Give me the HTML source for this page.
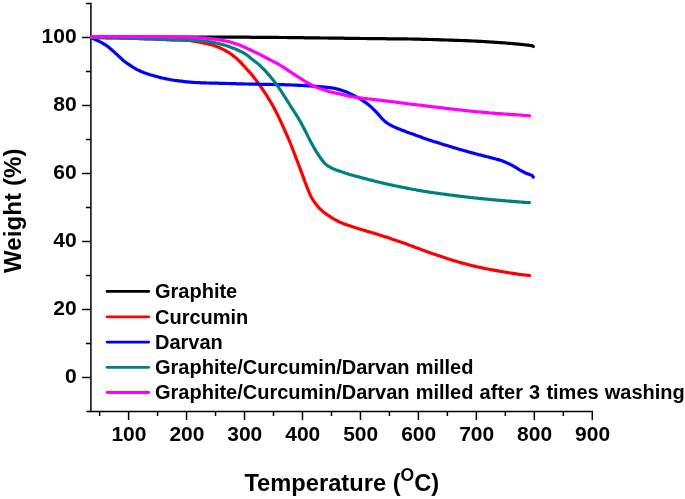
<!DOCTYPE html>
<html lang="en">
<head>
<meta charset="utf-8">
<title>TGA: Weight (%) vs Temperature</title>
<style>
html,body{margin:0;padding:0;background:#fff;}
body{width:685px;height:499px;overflow:hidden;position:relative;font-family:"Liberation Sans",sans-serif;}
</style>
</head>
<body>
<svg width="685" height="499" viewBox="0 0 685 499" style="display:block;position:absolute;left:0;top:0">
<rect width="685" height="499" fill="#ffffff"/>
<g stroke="#000" stroke-width="1.5" fill="none" stroke-linecap="butt">
<path d="M90.9,2.75 V412.25"/>
<path d="M86.40,411.5 H593.03"/>
<path d="M82.10,377.50 H90.9"/>
<path d="M85.90,343.50 H90.9"/>
<path d="M82.10,309.50 H90.9"/>
<path d="M85.90,275.50 H90.9"/>
<path d="M82.10,241.50 H90.9"/>
<path d="M85.90,207.50 H90.9"/>
<path d="M82.10,173.50 H90.9"/>
<path d="M85.90,139.50 H90.9"/>
<path d="M82.10,105.50 H90.9"/>
<path d="M85.90,71.50 H90.9"/>
<path d="M82.10,37.50 H90.9"/>
<path d="M85.90,3.50 H90.9"/>
<path d="M99.62,411.5 V416.00"/>
<path d="M128.60,411.5 V420.00"/>
<path d="M157.58,411.5 V416.00"/>
<path d="M186.56,411.5 V420.00"/>
<path d="M215.54,411.5 V416.00"/>
<path d="M244.52,411.5 V420.00"/>
<path d="M273.50,411.5 V416.00"/>
<path d="M302.48,411.5 V420.00"/>
<path d="M331.46,411.5 V416.00"/>
<path d="M360.44,411.5 V420.00"/>
<path d="M389.42,411.5 V416.00"/>
<path d="M418.40,411.5 V420.00"/>
<path d="M447.38,411.5 V416.00"/>
<path d="M476.36,411.5 V420.00"/>
<path d="M505.34,411.5 V416.00"/>
<path d="M534.32,411.5 V420.00"/>
<path d="M563.30,411.5 V416.00"/>
<path d="M592.28,411.5 V420.00"/>
</g>
<path d="M91.6,37.0 L93.1,37.0 L94.6,37.0 L96.1,37.0 L97.6,37.0 L99.1,37.0 L100.6,37.0 L102.1,37.0 L103.6,37.0 L105.1,37.0 L106.6,37.0 L108.1,37.0 L109.6,37.0 L111.1,37.0 L112.6,37.0 L114.1,37.0 L115.6,37.0 L117.1,37.0 L118.6,37.0 L120.1,37.0 L121.6,37.0 L123.1,37.0 L124.6,37.0 L126.1,37.0 L127.6,37.0 L129.1,37.0 L130.6,37.0 L132.1,37.0 L133.6,37.0 L135.1,37.0 L136.6,37.0 L138.1,37.0 L139.6,37.0 L141.1,37.0 L142.6,37.0 L144.1,37.0 L145.6,37.0 L147.1,37.0 L148.6,37.0 L150.1,37.0 L151.6,37.0 L153.1,37.0 L154.6,37.0 L156.1,37.0 L157.6,37.0 L159.1,37.0 L160.6,37.0 L162.1,37.0 L163.6,37.0 L165.1,37.0 L166.6,37.0 L168.1,37.0 L169.6,37.0 L171.1,37.0 L172.6,37.0 L174.1,37.0 L175.6,37.0 L177.1,37.0 L178.6,37.0 L180.1,37.0 L181.6,37.1 L183.1,37.1 L184.6,37.1 L186.1,37.1 L187.6,37.1 L189.1,37.1 L190.6,37.1 L192.1,37.1 L193.6,37.1 L195.1,37.1 L196.6,37.1 L198.1,37.1 L199.6,37.1 L201.1,37.1 L202.6,37.1 L204.1,37.1 L205.6,37.1 L207.1,37.1 L208.6,37.1 L210.1,37.1 L211.6,37.1 L213.1,37.1 L214.6,37.1 L216.1,37.1 L217.6,37.1 L219.1,37.1 L220.6,37.2 L222.1,37.2 L223.6,37.2 L225.1,37.2 L226.6,37.2 L228.1,37.2 L229.6,37.2 L231.1,37.2 L232.6,37.2 L234.1,37.2 L235.6,37.2 L237.1,37.2 L238.6,37.2 L240.1,37.2 L241.6,37.2 L243.1,37.2 L244.6,37.2 L246.1,37.2 L247.6,37.2 L249.1,37.2 L250.6,37.3 L252.1,37.3 L253.6,37.3 L255.1,37.3 L256.6,37.3 L258.1,37.3 L259.6,37.3 L261.1,37.3 L262.6,37.3 L264.1,37.3 L265.6,37.3 L267.1,37.3 L268.6,37.4 L270.1,37.4 L271.6,37.4 L273.1,37.4 L274.6,37.4 L276.1,37.4 L277.6,37.4 L279.1,37.5 L280.6,37.5 L282.1,37.5 L283.6,37.5 L285.1,37.5 L286.6,37.5 L288.1,37.6 L289.6,37.6 L291.1,37.6 L292.6,37.6 L294.1,37.6 L295.6,37.6 L297.1,37.7 L298.6,37.7 L300.1,37.7 L301.6,37.7 L303.1,37.7 L304.6,37.8 L306.1,37.8 L307.6,37.8 L309.1,37.8 L310.6,37.8 L312.1,37.8 L313.6,37.9 L315.1,37.9 L316.6,37.9 L318.1,37.9 L319.6,37.9 L321.1,38.0 L322.6,38.0 L324.1,38.0 L325.6,38.0 L327.1,38.0 L328.6,38.1 L330.1,38.1 L331.6,38.1 L333.1,38.1 L334.6,38.1 L336.1,38.2 L337.6,38.2 L339.1,38.2 L340.6,38.2 L342.1,38.2 L343.6,38.2 L345.1,38.3 L346.6,38.3 L348.1,38.3 L349.6,38.3 L351.1,38.3 L352.6,38.4 L354.1,38.4 L355.6,38.4 L357.1,38.4 L358.6,38.4 L360.1,38.5 L361.6,38.5 L363.1,38.5 L364.6,38.5 L366.1,38.5 L367.6,38.6 L369.1,38.6 L370.6,38.6 L372.1,38.6 L373.6,38.6 L375.1,38.6 L376.6,38.7 L378.1,38.7 L379.6,38.7 L381.1,38.7 L382.6,38.7 L384.1,38.7 L385.6,38.7 L387.1,38.8 L388.6,38.8 L390.1,38.8 L391.6,38.8 L393.1,38.8 L394.6,38.8 L396.1,38.8 L397.6,38.8 L399.1,38.9 L400.6,38.9 L402.1,38.9 L403.6,38.9 L405.1,38.9 L406.6,38.9 L408.1,39.0 L409.6,39.0 L411.1,39.0 L412.6,39.1 L414.1,39.1 L415.6,39.1 L417.1,39.2 L418.6,39.2 L420.1,39.2 L421.6,39.3 L423.1,39.3 L424.6,39.3 L426.1,39.4 L427.6,39.4 L429.1,39.5 L430.6,39.5 L432.1,39.5 L433.6,39.6 L435.1,39.6 L436.6,39.7 L438.1,39.7 L439.6,39.8 L441.1,39.8 L442.6,39.9 L444.1,39.9 L445.6,40.0 L447.1,40.0 L448.6,40.1 L450.1,40.1 L451.6,40.2 L453.1,40.2 L454.6,40.3 L456.1,40.3 L457.6,40.4 L459.1,40.4 L460.6,40.5 L462.1,40.5 L463.6,40.6 L465.1,40.6 L466.6,40.7 L468.1,40.8 L469.6,40.8 L471.1,40.9 L472.6,41.0 L474.1,41.0 L475.6,41.1 L477.1,41.2 L478.6,41.3 L480.1,41.3 L481.6,41.4 L483.1,41.5 L484.6,41.6 L486.1,41.7 L487.6,41.8 L489.1,41.9 L490.6,42.0 L492.1,42.1 L493.6,42.2 L495.1,42.3 L496.6,42.4 L498.1,42.5 L499.6,42.6 L501.1,42.7 L502.6,42.8 L504.1,42.9 L505.6,43.0 L507.1,43.2 L508.6,43.3 L510.1,43.4 L511.6,43.5 L513.1,43.6 L514.6,43.8 L516.1,43.9 L517.6,44.1 L519.1,44.2 L520.6,44.3 L522.1,44.5 L523.6,44.7 L525.1,44.8 L526.6,45.0 L528.1,45.2 L529.6,45.4 L531.1,45.6 L532.0,45.6 L533.4,46.5" fill="none" stroke="#000000" stroke-width="3.2" stroke-linecap="round" stroke-linejoin="round"/>
<path d="M91.6,37.5 L93.1,37.5 L94.6,37.5 L96.1,37.6 L97.6,37.6 L99.1,37.6 L100.6,37.6 L102.1,37.7 L103.6,37.7 L105.1,37.7 L106.6,37.8 L108.1,37.8 L109.6,37.8 L111.1,37.8 L112.6,37.9 L114.1,37.9 L115.6,37.9 L117.1,38.0 L118.6,38.0 L120.1,38.1 L121.6,38.1 L123.1,38.1 L124.6,38.2 L126.1,38.2 L127.6,38.2 L129.1,38.3 L130.6,38.3 L132.1,38.4 L133.6,38.4 L135.1,38.4 L136.6,38.5 L138.1,38.5 L139.6,38.6 L141.1,38.6 L142.6,38.7 L144.1,38.7 L145.6,38.8 L147.1,38.8 L148.6,38.9 L150.1,38.9 L151.6,39.0 L153.1,39.0 L154.6,39.1 L156.1,39.2 L157.6,39.2 L159.1,39.3 L160.6,39.3 L162.1,39.4 L163.6,39.4 L165.1,39.5 L166.6,39.6 L168.1,39.6 L169.6,39.7 L171.1,39.8 L172.6,39.8 L174.1,39.9 L175.6,39.9 L177.1,40.0 L178.6,40.0 L180.1,40.0 L181.6,40.1 L183.1,40.1 L184.6,40.2 L186.1,40.3 L187.6,40.4 L189.1,40.5 L190.6,40.7 L192.1,40.9 L193.6,41.1 L195.1,41.3 L196.6,41.6 L198.1,41.9 L199.6,42.2 L201.1,42.5 L202.6,42.8 L204.1,43.1 L205.6,43.4 L207.1,43.7 L208.6,44.1 L210.1,44.4 L211.6,44.8 L213.1,45.2 L214.6,45.7 L216.1,46.3 L217.6,46.9 L219.1,47.5 L220.6,48.2 L222.1,48.9 L223.6,49.7 L225.1,50.5 L226.6,51.3 L228.1,52.2 L229.6,53.2 L231.1,54.2 L232.6,55.2 L234.1,56.4 L235.6,57.6 L237.1,58.9 L238.6,60.3 L240.1,61.8 L241.6,63.4 L243.1,65.1 L244.6,66.7 L246.1,68.4 L247.6,70.0 L249.1,71.6 L250.6,73.4 L252.1,75.1 L253.6,77.0 L255.1,78.9 L256.6,80.9 L258.1,82.9 L259.6,85.0 L261.1,87.1 L262.6,89.3 L264.1,91.6 L265.6,93.9 L267.1,96.2 L268.6,98.6 L270.1,101.0 L271.6,103.6 L273.1,106.2 L274.6,109.0 L276.1,111.9 L277.6,114.9 L279.1,117.9 L280.6,121.1 L282.1,124.4 L283.6,127.7 L285.1,131.1 L286.6,134.5 L288.1,137.9 L289.6,141.3 L291.1,145.0 L292.6,148.8 L294.1,152.8 L295.6,156.9 L297.1,160.8 L298.6,164.7 L300.1,168.6 L301.6,172.6 L303.1,176.6 L304.6,180.7 L306.1,184.7 L307.6,188.7 L309.1,192.4 L310.6,195.7 L312.1,198.5 L313.6,200.9 L315.1,203.1 L316.6,205.0 L318.1,206.8 L319.6,208.4 L321.1,209.9 L322.6,211.2 L324.1,212.4 L325.6,213.6 L327.1,214.7 L328.6,215.7 L330.1,216.7 L331.6,217.7 L333.1,218.6 L334.6,219.4 L336.1,220.2 L337.6,221.0 L339.1,221.8 L340.6,222.4 L342.1,223.1 L343.6,223.7 L345.1,224.2 L346.6,224.8 L348.1,225.3 L349.6,225.8 L351.1,226.3 L352.6,226.8 L354.1,227.3 L355.6,227.8 L357.1,228.2 L358.6,228.7 L360.1,229.2 L361.6,229.6 L363.1,230.1 L364.6,230.5 L366.1,230.9 L367.6,231.4 L369.1,231.8 L370.6,232.3 L372.1,232.7 L373.6,233.1 L375.1,233.6 L376.6,234.0 L378.1,234.5 L379.6,234.9 L381.1,235.4 L382.6,235.9 L384.1,236.4 L385.6,236.9 L387.1,237.3 L388.6,237.8 L390.1,238.3 L391.6,238.9 L393.1,239.4 L394.6,239.9 L396.1,240.4 L397.6,240.9 L399.1,241.5 L400.6,242.0 L402.1,242.5 L403.6,243.1 L405.1,243.6 L406.6,244.1 L408.1,244.7 L409.6,245.2 L411.1,245.8 L412.6,246.3 L414.1,246.9 L415.6,247.5 L417.1,248.0 L418.6,248.6 L420.1,249.1 L421.6,249.7 L423.1,250.2 L424.6,250.8 L426.1,251.3 L427.6,251.9 L429.1,252.4 L430.6,252.9 L432.1,253.5 L433.6,254.0 L435.1,254.5 L436.6,255.1 L438.1,255.6 L439.6,256.1 L441.1,256.6 L442.6,257.1 L444.1,257.6 L445.6,258.1 L447.1,258.6 L448.6,259.0 L450.1,259.5 L451.6,260.0 L453.1,260.4 L454.6,260.9 L456.1,261.3 L457.6,261.8 L459.1,262.2 L460.6,262.6 L462.1,263.0 L463.6,263.4 L465.1,263.8 L466.6,264.2 L468.1,264.6 L469.6,265.0 L471.1,265.4 L472.6,265.7 L474.1,266.1 L475.6,266.4 L477.1,266.8 L478.6,267.1 L480.1,267.4 L481.6,267.7 L483.1,268.1 L484.6,268.4 L486.1,268.7 L487.6,269.0 L489.1,269.3 L490.6,269.6 L492.1,269.8 L493.6,270.1 L495.1,270.4 L496.6,270.7 L498.1,270.9 L499.6,271.2 L501.1,271.5 L502.6,271.7 L504.1,272.0 L505.6,272.2 L507.1,272.5 L508.6,272.7 L510.1,273.0 L511.6,273.2 L513.1,273.4 L514.6,273.6 L516.1,273.8 L517.6,274.1 L519.1,274.3 L520.6,274.5 L522.1,274.7 L523.6,274.8 L525.1,275.0 L526.6,275.2 L528.1,275.3 L529.6,275.5 L529.7,275.5" fill="none" stroke="#ff0000" stroke-width="3.2" stroke-linecap="round" stroke-linejoin="round"/>
<path d="M91.6,38.0 L93.1,38.6 L94.6,39.3 L96.1,40.0 L97.6,40.6 L99.1,41.3 L100.6,42.1 L102.1,42.9 L103.6,43.8 L105.1,44.7 L106.6,45.7 L108.1,46.8 L109.6,48.0 L111.1,49.3 L112.6,50.6 L114.1,51.9 L115.6,53.3 L117.1,54.7 L118.6,56.1 L120.1,57.5 L121.6,58.9 L123.1,60.2 L124.6,61.4 L126.1,62.6 L127.6,63.7 L129.1,64.7 L130.6,65.7 L132.1,66.7 L133.6,67.6 L135.1,68.5 L136.6,69.3 L138.1,70.1 L139.6,70.8 L141.1,71.5 L142.6,72.1 L144.1,72.7 L145.6,73.2 L147.1,73.7 L148.6,74.2 L150.1,74.7 L151.6,75.1 L153.1,75.5 L154.6,76.0 L156.1,76.4 L157.6,76.8 L159.1,77.2 L160.6,77.6 L162.1,78.0 L163.6,78.3 L165.1,78.6 L166.6,79.0 L168.1,79.2 L169.6,79.5 L171.1,79.8 L172.6,80.0 L174.1,80.3 L175.6,80.5 L177.1,80.7 L178.6,80.9 L180.1,81.1 L181.6,81.2 L183.1,81.4 L184.6,81.6 L186.1,81.8 L187.6,81.9 L189.1,82.1 L190.6,82.2 L192.1,82.3 L193.6,82.4 L195.1,82.5 L196.6,82.6 L198.1,82.6 L199.6,82.7 L201.1,82.8 L202.6,82.8 L204.1,82.9 L205.6,82.9 L207.1,83.0 L208.6,83.0 L210.1,83.1 L211.6,83.1 L213.1,83.1 L214.6,83.2 L216.1,83.2 L217.6,83.2 L219.1,83.3 L220.6,83.3 L222.1,83.4 L223.6,83.4 L225.1,83.4 L226.6,83.5 L228.1,83.5 L229.6,83.6 L231.1,83.6 L232.6,83.7 L234.1,83.7 L235.6,83.7 L237.1,83.8 L238.6,83.8 L240.1,83.9 L241.6,83.9 L243.1,83.9 L244.6,84.0 L246.1,84.0 L247.6,84.0 L249.1,84.1 L250.6,84.1 L252.1,84.1 L253.6,84.2 L255.1,84.2 L256.6,84.2 L258.1,84.2 L259.6,84.3 L261.1,84.3 L262.6,84.3 L264.1,84.3 L265.6,84.4 L267.1,84.4 L268.6,84.4 L270.1,84.4 L271.6,84.5 L273.1,84.5 L274.6,84.5 L276.1,84.6 L277.6,84.6 L279.1,84.6 L280.6,84.7 L282.1,84.7 L283.6,84.7 L285.1,84.8 L286.6,84.8 L288.1,84.9 L289.6,84.9 L291.1,85.0 L292.6,85.0 L294.1,85.1 L295.6,85.1 L297.1,85.2 L298.6,85.3 L300.1,85.3 L301.6,85.4 L303.1,85.5 L304.6,85.6 L306.1,85.7 L307.6,85.8 L309.1,85.8 L310.6,85.9 L312.1,86.1 L313.6,86.2 L315.1,86.3 L316.6,86.4 L318.1,86.5 L319.6,86.7 L321.1,86.8 L322.6,86.9 L324.1,87.1 L325.6,87.2 L327.1,87.4 L328.6,87.6 L330.1,87.7 L331.6,87.9 L333.1,88.2 L334.6,88.4 L336.1,88.7 L337.6,89.1 L339.1,89.5 L340.6,89.9 L342.1,90.4 L343.6,90.9 L345.1,91.5 L346.6,92.1 L348.1,92.7 L349.6,93.4 L351.1,94.1 L352.6,94.9 L354.1,95.6 L355.6,96.4 L357.1,97.3 L358.6,98.1 L360.1,99.0 L361.6,99.9 L363.1,100.9 L364.6,101.9 L366.1,102.9 L367.6,104.0 L369.1,105.2 L370.6,106.4 L372.1,107.8 L373.6,109.3 L375.1,110.8 L376.6,112.4 L378.1,114.1 L379.6,115.8 L381.1,117.5 L382.6,119.2 L384.1,120.6 L385.6,121.9 L387.1,123.0 L388.6,124.0 L390.1,124.9 L391.6,125.7 L393.1,126.4 L394.6,127.1 L396.1,127.8 L397.6,128.4 L399.1,129.0 L400.6,129.6 L402.1,130.2 L403.6,130.7 L405.1,131.3 L406.6,131.9 L408.1,132.4 L409.6,133.0 L411.1,133.5 L412.6,134.1 L414.1,134.6 L415.6,135.2 L417.1,135.7 L418.6,136.3 L420.1,136.8 L421.6,137.3 L423.1,137.9 L424.6,138.4 L426.1,138.9 L427.6,139.4 L429.1,139.9 L430.6,140.4 L432.1,140.9 L433.6,141.4 L435.1,141.9 L436.6,142.3 L438.1,142.8 L439.6,143.3 L441.1,143.8 L442.6,144.2 L444.1,144.7 L445.6,145.1 L447.1,145.6 L448.6,146.1 L450.1,146.5 L451.6,147.0 L453.1,147.4 L454.6,147.9 L456.1,148.3 L457.6,148.7 L459.1,149.2 L460.6,149.6 L462.1,150.0 L463.6,150.5 L465.1,150.9 L466.6,151.3 L468.1,151.8 L469.6,152.2 L471.1,152.6 L472.6,153.0 L474.1,153.4 L475.6,153.8 L477.1,154.2 L478.6,154.6 L480.1,154.9 L481.6,155.3 L483.1,155.7 L484.6,156.1 L486.1,156.5 L487.6,156.8 L489.1,157.2 L490.6,157.6 L492.1,158.0 L493.6,158.4 L495.1,158.7 L496.6,159.2 L498.1,159.6 L499.6,160.0 L501.1,160.5 L502.6,161.1 L504.1,161.7 L505.6,162.3 L507.1,162.9 L508.6,163.6 L510.1,164.3 L511.6,165.1 L513.1,165.9 L514.6,166.8 L516.1,167.7 L517.6,168.6 L519.1,169.6 L520.6,170.4 L522.1,171.3 L523.6,172.0 L525.1,172.8 L526.6,173.4 L528.1,174.0 L529.6,174.6 L531.1,175.1 L531.4,175.1 L532.6,175.9 L533.3,177.2" fill="none" stroke="#0000ff" stroke-width="3.2" stroke-linecap="round" stroke-linejoin="round"/>
<path d="M91.6,37.5 L93.1,37.5 L94.6,37.5 L96.1,37.6 L97.6,37.6 L99.1,37.6 L100.6,37.6 L102.1,37.7 L103.6,37.7 L105.1,37.7 L106.6,37.8 L108.1,37.8 L109.6,37.8 L111.1,37.8 L112.6,37.9 L114.1,37.9 L115.6,37.9 L117.1,38.0 L118.6,38.0 L120.1,38.1 L121.6,38.1 L123.1,38.1 L124.6,38.2 L126.1,38.2 L127.6,38.2 L129.1,38.3 L130.6,38.3 L132.1,38.4 L133.6,38.4 L135.1,38.4 L136.6,38.5 L138.1,38.5 L139.6,38.6 L141.1,38.6 L142.6,38.7 L144.1,38.7 L145.6,38.8 L147.1,38.8 L148.6,38.9 L150.1,38.9 L151.6,39.0 L153.1,39.0 L154.6,39.1 L156.1,39.2 L157.6,39.2 L159.1,39.3 L160.6,39.3 L162.1,39.4 L163.6,39.4 L165.1,39.5 L166.6,39.6 L168.1,39.6 L169.6,39.7 L171.1,39.8 L172.6,39.8 L174.1,39.9 L175.6,39.9 L177.1,40.0 L178.6,40.0 L180.1,40.0 L181.6,40.1 L183.1,40.1 L184.6,40.2 L186.1,40.2 L187.6,40.2 L189.1,40.3 L190.6,40.3 L192.1,40.4 L193.6,40.4 L195.1,40.5 L196.6,40.5 L198.1,40.6 L199.6,40.7 L201.1,40.8 L202.6,40.9 L204.1,41.0 L205.6,41.2 L207.1,41.4 L208.6,41.6 L210.1,41.8 L211.6,42.1 L213.1,42.4 L214.6,42.6 L216.1,43.0 L217.6,43.3 L219.1,43.7 L220.6,44.1 L222.1,44.5 L223.6,44.9 L225.1,45.3 L226.6,45.8 L228.1,46.3 L229.6,46.8 L231.1,47.4 L232.6,47.9 L234.1,48.5 L235.6,49.1 L237.1,49.8 L238.6,50.5 L240.1,51.2 L241.6,51.9 L243.1,52.7 L244.6,53.5 L246.1,54.5 L247.6,55.5 L249.1,56.7 L250.6,58.0 L252.1,59.2 L253.6,60.3 L255.1,61.5 L256.6,62.6 L258.1,63.9 L259.6,65.2 L261.1,66.6 L262.6,68.1 L264.1,69.6 L265.6,71.2 L267.1,72.9 L268.6,74.6 L270.1,76.3 L271.6,78.2 L273.1,80.0 L274.6,82.0 L276.1,83.9 L277.6,86.0 L279.1,88.1 L280.6,90.3 L282.1,92.6 L283.6,95.0 L285.1,97.4 L286.6,99.7 L288.1,102.1 L289.6,104.5 L291.1,106.8 L292.6,109.2 L294.1,111.5 L295.6,113.8 L297.1,116.2 L298.6,118.6 L300.1,121.2 L301.6,123.9 L303.1,126.8 L304.6,129.7 L306.1,132.6 L307.6,135.6 L309.1,138.6 L310.6,141.5 L312.1,144.3 L313.6,147.0 L315.1,149.6 L316.6,152.1 L318.1,154.4 L319.6,156.7 L321.1,158.8 L322.6,160.8 L324.1,162.6 L325.6,164.1 L327.1,165.4 L328.6,166.4 L330.1,167.2 L331.6,168.0 L333.1,168.7 L334.6,169.3 L336.1,169.9 L337.6,170.4 L339.1,171.0 L340.6,171.5 L342.1,172.0 L343.6,172.5 L345.1,173.0 L346.6,173.5 L348.1,174.0 L349.6,174.5 L351.1,174.9 L352.6,175.3 L354.1,175.7 L355.6,176.1 L357.1,176.5 L358.6,176.9 L360.1,177.3 L361.6,177.7 L363.1,178.1 L364.6,178.5 L366.1,178.9 L367.6,179.3 L369.1,179.7 L370.6,180.1 L372.1,180.4 L373.6,180.8 L375.1,181.2 L376.6,181.6 L378.1,181.9 L379.6,182.3 L381.1,182.6 L382.6,183.0 L384.1,183.4 L385.6,183.7 L387.1,184.0 L388.6,184.4 L390.1,184.7 L391.6,185.0 L393.1,185.4 L394.6,185.7 L396.1,186.0 L397.6,186.3 L399.1,186.6 L400.6,186.9 L402.1,187.2 L403.6,187.5 L405.1,187.8 L406.6,188.1 L408.1,188.4 L409.6,188.7 L411.1,189.0 L412.6,189.3 L414.1,189.5 L415.6,189.8 L417.1,190.1 L418.6,190.3 L420.1,190.6 L421.6,190.9 L423.1,191.1 L424.6,191.4 L426.1,191.6 L427.6,191.8 L429.1,192.1 L430.6,192.3 L432.1,192.5 L433.6,192.7 L435.1,193.0 L436.6,193.2 L438.1,193.4 L439.6,193.6 L441.1,193.8 L442.6,194.0 L444.1,194.2 L445.6,194.4 L447.1,194.6 L448.6,194.8 L450.1,195.0 L451.6,195.2 L453.1,195.4 L454.6,195.6 L456.1,195.8 L457.6,195.9 L459.1,196.1 L460.6,196.3 L462.1,196.5 L463.6,196.7 L465.1,196.9 L466.6,197.0 L468.1,197.2 L469.6,197.4 L471.1,197.5 L472.6,197.7 L474.1,197.9 L475.6,198.0 L477.1,198.2 L478.6,198.3 L480.1,198.5 L481.6,198.6 L483.1,198.8 L484.6,198.9 L486.1,199.1 L487.6,199.2 L489.1,199.4 L490.6,199.5 L492.1,199.7 L493.6,199.8 L495.1,199.9 L496.6,200.1 L498.1,200.2 L499.6,200.3 L501.1,200.5 L502.6,200.6 L504.1,200.7 L505.6,200.8 L507.1,201.0 L508.6,201.1 L510.1,201.2 L511.6,201.3 L513.1,201.4 L514.6,201.6 L516.1,201.7 L517.6,201.8 L519.1,201.9 L520.6,202.0 L522.1,202.1 L523.6,202.3 L525.1,202.4 L526.6,202.5 L528.1,202.6 L529.5,202.7" fill="none" stroke="#008080" stroke-width="3.2" stroke-linecap="round" stroke-linejoin="round"/>
<path d="M91.6,36.7 L93.1,36.7 L94.6,36.7 L96.1,36.7 L97.6,36.7 L99.1,36.7 L100.6,36.7 L102.1,36.7 L103.6,36.7 L105.1,36.7 L106.6,36.7 L108.1,36.7 L109.6,36.7 L111.1,36.7 L112.6,36.7 L114.1,36.7 L115.6,36.7 L117.1,36.7 L118.6,36.7 L120.1,36.7 L121.6,36.7 L123.1,36.7 L124.6,36.7 L126.1,36.7 L127.6,36.7 L129.1,36.7 L130.6,36.7 L132.1,36.7 L133.6,36.7 L135.1,36.7 L136.6,36.7 L138.1,36.7 L139.6,36.7 L141.1,36.7 L142.6,36.7 L144.1,36.7 L145.6,36.7 L147.1,36.7 L148.6,36.7 L150.1,36.7 L151.6,36.7 L153.1,36.7 L154.6,36.7 L156.1,36.7 L157.6,36.7 L159.1,36.7 L160.6,36.7 L162.1,36.7 L163.6,36.7 L165.1,36.7 L166.6,36.7 L168.1,36.8 L169.6,36.8 L171.1,36.8 L172.6,36.8 L174.1,36.9 L175.6,36.9 L177.1,36.9 L178.6,37.0 L180.1,37.0 L181.6,37.1 L183.1,37.1 L184.6,37.1 L186.1,37.2 L187.6,37.2 L189.1,37.3 L190.6,37.3 L192.1,37.4 L193.6,37.4 L195.1,37.5 L196.6,37.6 L198.1,37.7 L199.6,37.8 L201.1,37.9 L202.6,38.0 L204.1,38.1 L205.6,38.2 L207.1,38.4 L208.6,38.5 L210.1,38.7 L211.6,38.9 L213.1,39.1 L214.6,39.2 L216.1,39.4 L217.6,39.6 L219.1,39.8 L220.6,40.1 L222.1,40.3 L223.6,40.6 L225.1,40.8 L226.6,41.2 L228.1,41.5 L229.6,41.9 L231.1,42.3 L232.6,42.7 L234.1,43.2 L235.6,43.7 L237.1,44.2 L238.6,44.7 L240.1,45.3 L241.6,45.9 L243.1,46.6 L244.6,47.3 L246.1,47.9 L247.6,48.6 L249.1,49.3 L250.6,50.0 L252.1,50.7 L253.6,51.4 L255.1,52.1 L256.6,52.9 L258.1,53.6 L259.6,54.4 L261.1,55.1 L262.6,55.9 L264.1,56.7 L265.6,57.5 L267.1,58.3 L268.6,59.0 L270.1,59.8 L271.6,60.6 L273.1,61.3 L274.6,62.1 L276.1,62.9 L277.6,63.7 L279.1,64.6 L280.6,65.5 L282.1,66.4 L283.6,67.3 L285.1,68.3 L286.6,69.3 L288.1,70.3 L289.6,71.3 L291.1,72.3 L292.6,73.3 L294.1,74.3 L295.6,75.3 L297.1,76.3 L298.6,77.2 L300.1,78.2 L301.6,79.2 L303.1,80.2 L304.6,81.1 L306.1,82.0 L307.6,82.8 L309.1,83.7 L310.6,84.4 L312.1,85.2 L313.6,86.0 L315.1,86.7 L316.6,87.3 L318.1,87.9 L319.6,88.5 L321.1,89.0 L322.6,89.5 L324.1,90.0 L325.6,90.4 L327.1,90.9 L328.6,91.4 L330.1,91.9 L331.6,92.3 L333.1,92.6 L334.6,92.9 L336.1,93.2 L337.6,93.4 L339.1,93.7 L340.6,94.1 L342.1,94.4 L343.6,94.8 L345.1,95.2 L346.6,95.6 L348.1,95.9 L349.6,96.3 L351.1,96.5 L352.6,96.8 L354.1,97.0 L355.6,97.3 L357.1,97.5 L358.6,97.7 L360.1,97.9 L361.6,98.1 L363.1,98.3 L364.6,98.5 L366.1,98.7 L367.6,98.9 L369.1,99.0 L370.6,99.2 L372.1,99.4 L373.6,99.6 L375.1,99.7 L376.6,99.9 L378.1,100.1 L379.6,100.2 L381.1,100.4 L382.6,100.6 L384.1,100.8 L385.6,100.9 L387.1,101.1 L388.6,101.3 L390.1,101.4 L391.6,101.6 L393.1,101.8 L394.6,102.0 L396.1,102.2 L397.6,102.4 L399.1,102.6 L400.6,102.8 L402.1,103.0 L403.6,103.2 L405.1,103.4 L406.6,103.6 L408.1,103.8 L409.6,104.0 L411.1,104.2 L412.6,104.3 L414.1,104.5 L415.6,104.7 L417.1,104.9 L418.6,105.0 L420.1,105.2 L421.6,105.4 L423.1,105.6 L424.6,105.8 L426.1,105.9 L427.6,106.1 L429.1,106.3 L430.6,106.5 L432.1,106.7 L433.6,106.8 L435.1,107.0 L436.6,107.2 L438.1,107.4 L439.6,107.6 L441.1,107.7 L442.6,107.9 L444.1,108.1 L445.6,108.3 L447.1,108.5 L448.6,108.6 L450.1,108.8 L451.6,109.0 L453.1,109.1 L454.6,109.3 L456.1,109.5 L457.6,109.7 L459.1,109.8 L460.6,110.0 L462.1,110.2 L463.6,110.3 L465.1,110.5 L466.6,110.7 L468.1,110.8 L469.6,111.0 L471.1,111.2 L472.6,111.3 L474.1,111.5 L475.6,111.6 L477.1,111.8 L478.6,111.9 L480.1,112.0 L481.6,112.2 L483.1,112.3 L484.6,112.5 L486.1,112.6 L487.6,112.7 L489.1,112.9 L490.6,113.0 L492.1,113.1 L493.6,113.2 L495.1,113.4 L496.6,113.5 L498.1,113.6 L499.6,113.7 L501.1,113.8 L502.6,113.9 L504.1,114.0 L505.6,114.1 L507.1,114.2 L508.6,114.3 L510.1,114.4 L511.6,114.5 L513.1,114.6 L514.6,114.7 L516.1,114.8 L517.6,114.9 L519.1,115.0 L520.6,115.1 L522.1,115.2 L523.6,115.4 L525.1,115.5 L526.6,115.6 L528.1,115.7 L529.5,115.8" fill="none" stroke="#ff00ff" stroke-width="3.2" stroke-linecap="round" stroke-linejoin="round"/>
<g font-family="'Liberation Sans', sans-serif" font-weight="bold" fill="#000">
<g font-size="21px" text-anchor="end">
<text x="76.6" y="383.2">0</text>
<text x="76.6" y="315.2">20</text>
<text x="76.6" y="247.2">40</text>
<text x="76.6" y="179.2">60</text>
<text x="76.6" y="111.2">80</text>
<text x="76.6" y="43.2">100</text>
</g>
<g font-size="21px" text-anchor="middle">
<text x="128.9" y="440.7">100</text>
<text x="186.9" y="440.7">200</text>
<text x="244.8" y="440.7">300</text>
<text x="302.8" y="440.7">400</text>
<text x="360.7" y="440.7">500</text>
<text x="418.7" y="440.7">600</text>
<text x="476.7" y="440.7">700</text>
<text x="534.6" y="440.7">800</text>
<text x="592.6" y="440.7">900</text>
</g>
<g font-size="20px" word-spacing="0.6">
<path d="M107.1,291.4 H148.7" stroke="#000000" stroke-width="2.8" stroke-linecap="round"/>
<text x="155" y="298.2">Graphite</text>
<path d="M107.1,316.8 H148.7" stroke="#ff0000" stroke-width="2.8" stroke-linecap="round"/>
<text x="155" y="323.6">Curcumin</text>
<path d="M107.1,342.1 H148.7" stroke="#0000ff" stroke-width="2.8" stroke-linecap="round"/>
<text x="155" y="348.9">Darvan</text>
<path d="M107.1,367.3 H148.7" stroke="#008080" stroke-width="2.8" stroke-linecap="round"/>
<text x="155" y="374.1">Graphite/Curcumin/Darvan milled</text>
<path d="M107.1,392.5 H148.7" stroke="#ff00ff" stroke-width="2.8" stroke-linecap="round"/>
<text x="155" y="399.3">Graphite/Curcumin/Darvan milled after 3 times washing</text>
</g>
<text font-size="23.7px" x="244.4" y="490.6">Temperature (<tspan font-size="17.5px" dy="-9.5">O</tspan><tspan dy="9.5">C)</tspan></text>
<text font-size="24px" letter-spacing="0.1" transform="translate(20.6,273.0) rotate(-90)">Weight (%)</text>
</g>
</svg>
</body>
</html>
